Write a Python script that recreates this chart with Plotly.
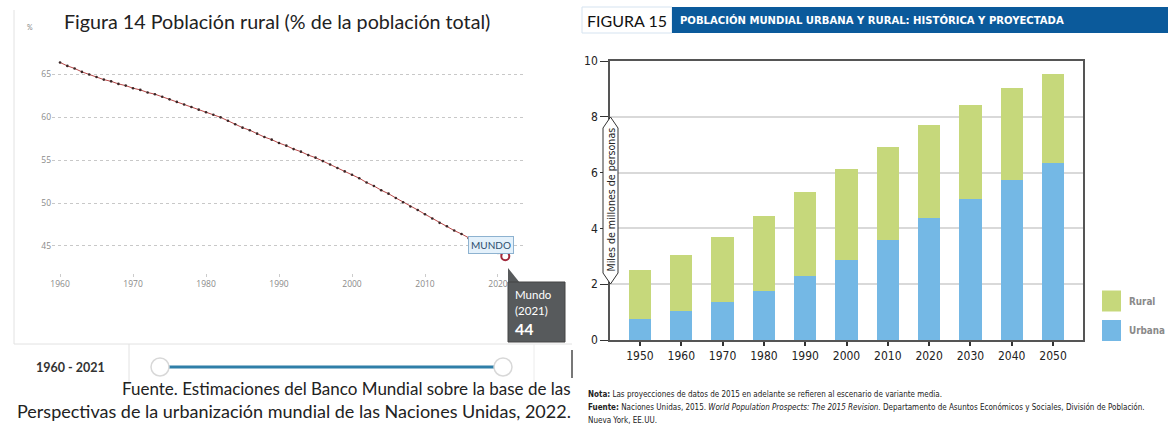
import plotly.graph_objects as go

# ---------------- data ----------------
# Figure 14: rural population (% of total), World, 1960-2021
rural_years = list(range(1960, 2022))
rural_pct = [66.4, 66.0, 65.7, 65.3, 65.0, 64.7, 64.4, 64.2, 63.9, 63.7,
             63.4, 63.2, 62.9, 62.7, 62.4, 62.1, 61.8, 61.5, 61.2, 60.9,
             60.6, 60.3, 60.0, 59.6, 59.2, 58.8, 58.5, 58.1, 57.7, 57.4,
             57.0, 56.7, 56.3, 56.0, 55.6, 55.3, 54.9, 54.5, 54.1, 53.7,
             53.3, 52.9, 52.4, 52.0, 51.5, 51.1, 50.6, 50.1, 49.6, 49.2,
             48.7, 48.2, 47.7, 47.3, 46.8, 46.4, 45.9, 45.5, 45.0, 44.6,
             44.2, 43.8]
left_yticks = [45, 50, 55, 60, 65]
left_xticks = [1960, 1970, 1980, 1990, 2000, 2010, 2020]

# Figure 15: world urban and rural population (billions)
decades = [1950, 1960, 1970, 1980, 1990, 2000, 2010, 2020, 2030, 2040, 2050]
urbana = [0.74, 1.04, 1.35, 1.75, 2.30, 2.86, 3.58, 4.36, 5.05, 5.74, 6.33]
rural = [1.77, 2.00, 2.34, 2.69, 3.02, 3.26, 3.35, 3.35, 3.37, 3.29, 3.20]
right_yticks = [0, 2, 4, 6, 8, 10]

W, H = 1168, 425


def px(x):
    return x / W


def py(y):
    return 1 - y / H


CAL = "Lato, 'Open Sans', sans-serif"
NARROW = "'Liberation Sans Narrow', 'DejaVu Sans Condensed', 'Roboto Condensed', Roboto, sans-serif"

fig = go.Figure()

# ---------- left chart ----------
fig.add_trace(go.Scatter(
    x=rural_years, y=rural_pct, mode="lines+markers",
    line=dict(color="#b84a4a", width=1),
    marker=dict(size=2.6, color="#3a2626"),
    xaxis="x", yaxis="y", showlegend=False, hoverinfo="skip"))
fig.add_trace(go.Scatter(
    x=rural_years[-1:], y=rural_pct[-1:], mode="markers",
    marker=dict(size=8, color="white", symbol="circle",
                line=dict(color="#a0283a", width=2)),
    xaxis="x", yaxis="y", showlegend=False, hoverinfo="skip"))

# ---------- right chart ----------
fig.add_trace(go.Bar(x=decades, y=urbana, name="Urbana", width=5.4,
                     marker=dict(color="#74b8e5", line=dict(width=0)),
                     xaxis="x2", yaxis="y2", showlegend=False))
fig.add_trace(go.Bar(x=decades, y=rural, name="Rural", width=5.4,
                     marker=dict(color="#c6d87b", line=dict(width=0)),
                     xaxis="x2", yaxis="y2", showlegend=False))

shapes = []
ann = []


def text(t, x, y, size, color="#222", family=CAL, xanchor="left", **kw):
    ann.append(dict(text=t, x=px(x), y=py(y), xref="paper", yref="paper",
                    showarrow=False, xanchor=xanchor, yanchor="middle",
                    font=dict(family=family, size=size, color=color), **kw))


def line(x0, y0, x1, y1, color, width=1):
    shapes.append(dict(type="line", xref="paper", yref="paper",
                       x0=px(x0), x1=px(x1), y0=py(y0), y1=py(y1),
                       line=dict(color=color, width=width)))


# --- left chart decorations ---
line(14, 10, 14, 344, "#e2e2e2")
line(14, 344, 572, 344, "#e2e2e2")
line(129, 344, 129, 382, "#e2e2e2")
line(534, 344, 534, 382, "#ececec")
line(572, 350, 572, 378, "#777777", 2)
# slider
line(165, 367, 498, 367, "#2f7fa8", 3)
for cx in (160, 503):
    shapes.append(dict(type="circle", xref="paper", yref="paper",
                       x0=px(cx - 9), x1=px(cx + 9), y0=py(376), y1=py(358),
                       fillcolor="white", line=dict(color="#d8d8d8", width=1.5)))
text("<b>1960 - 2021</b>", 70, 367, 12.5, "#333", xanchor="center")
# tooltip
shapes.append(dict(type="path", xref="paper", yref="paper",
                   path=f"M {px(508)} {py(268)} L {px(508)} {py(283)} L {px(520)} {py(283)} Z",
                   fillcolor="#575a5c", line=dict(width=0), layer="above"))
shapes.append(dict(type="rect", xref="paper", yref="paper",
                   x0=px(508), x1=px(565), y0=py(342), y1=py(282),
                   fillcolor="#575a5c", line=dict(color="#444", width=1), layer="above"))
text("Mundo", 513, 294, 11.5, "white")
text("(2021)", 513, 310, 11.5, "white")
text("<b>44</b>", 513, 328, 16, "white")
# MUNDO label
ann.append(dict(text="MUNDO", x=2019.0, y=45.1, xref="x", yref="y",
                showarrow=False, xanchor="center", yanchor="middle",
                bgcolor="#e4f1fb", bordercolor="#8db2d0",
                borderwidth=1, borderpad=2,
                font=dict(family=CAL, size=10, color="#2d4f6e")))
# title
text("%", 30, 27, 7, "#888", xanchor="center")
text("Figura 14 Población rural (% de la población total)", 62, 21, 19.7, "#222")
# source
text("Fuente. Estimaciones del Banco Mundial sobre la base de las", 573, 388, 17, "#222", xanchor="right")
text("Perspectivas de la urbanización mundial de las Naciones Unidas, 2022.", 573, 411, 18, "#222", xanchor="right")

# --- right chart decorations ---
shapes.append(dict(type="rect", xref="paper", yref="paper",
                   x0=px(582), x1=px(672), y0=py(33), y1=py(7),
                   fillcolor="white", line=dict(color="#d5e3f0", width=1)))
shapes.append(dict(type="rect", xref="paper", yref="paper",
                   x0=px(672), x1=px(1168), y0=py(33), y1=py(7),
                   fillcolor="#0b5a9b", line=dict(width=0)))
text("FIGURA 15", 585, 20, 16, "#111")
text("<b>POBLACIÓN MUNDIAL URBANA Y RURAL: HISTÓRICA Y PROYECTADA</b>", 678, 20, 11.2, "white", family=NARROW)
# axis-title badge
shapes.append(dict(type="path", xref="paper", yref="paper", layer="above",
                   path=(f"M {px(610.5)} {py(117)} L {px(618)} {py(128)} L {px(618)} {py(273)} "
                         f"L {px(610.5)} {py(284)} L {px(603)} {py(273)} L {px(603)} {py(128)} Z"),
                   fillcolor="white", line=dict(color="#333", width=1)))
text("Miles de millones de personas", 610.5, 200, 10.6, "#222", family=NARROW,
     xanchor="center", textangle=-90)
# legend
for label, col, yc in (("Rural", "#c6d87b", 301), ("Urbana", "#74b8e5", 330.5)):
    shapes.append(dict(type="rect", xref="paper", yref="paper",
                       x0=px(1102), x1=px(1121), y0=py(yc + 10.5), y1=py(yc - 10.5),
                       fillcolor=col, line=dict(width=0)))
    text(f"<b>{label}</b>", 1127, yc, 9.8, "#8a8a8a", family=NARROW)
# notes
text("<b>Nota:</b> Las proyecciones de datos de 2015 en adelante se refieren al escenario de variante media.",
     586, 394, 8, family=NARROW)
text("<b>Fuente:</b> Naciones Unidas, 2015. <i>World Population Prospects: The 2015 Revision.</i> "
     "Departamento de Asuntos Económicos y Sociales, División de Población.",
     586, 407, 8, family=NARROW)
text("Nueva York, EE.UU.", 586, 420, 8, family=NARROW)

fig.update_layout(
    width=W, height=H, margin=dict(l=0, r=0, t=0, b=0, pad=0, autoexpand=False),
    paper_bgcolor="white", plot_bgcolor="rgba(0,0,0,0)",
    barmode="stack", bargap=0,
    shapes=shapes, annotations=ann,
    xaxis=dict(domain=[px(52), px(525)], range=[1958.9, 2023.7], automargin=False,
               tickvals=left_xticks, ticks="outside", ticklen=3, tickcolor="#cccccc",
               showgrid=False, zeroline=False, showline=False,
               tickfont=dict(family="Open Sans", size=8.5, color="#8a8a8a")),
    yaxis=dict(domain=[py(273), py(55)], range=[41.85, 67.27], automargin=False,
               tickvals=left_yticks, showgrid=True, gridcolor="#c8c8c8",
               griddash="dot", gridwidth=1, zeroline=False, showline=False,
               ticks="", tickfont=dict(family="Open Sans", size=8.5, color="#8a8a8a")),
    xaxis2=dict(domain=[px(610), px(1083)], range=[1942.74, 2057.26], automargin=False,
                tickvals=decades, ticks="outside", ticklen=4, tickcolor="#333",
                tickwidth=1.5, showgrid=False, zeroline=False,
                showline=True, linecolor="#555", linewidth=1.5, mirror=True,
                anchor="y2",
                tickfont=dict(family=NARROW, size=12, color="#222")),
    yaxis2=dict(domain=[py(340), py(61)], range=[0, 10], automargin=False,
                tickvals=right_yticks, ticks="outside", ticklen=8, tickcolor="#333",
                tickwidth=1, showgrid=True, gridcolor="#d9d9d9", gridwidth=2,
                zeroline=False, showline=True, linecolor="#555", linewidth=1.5,
                mirror=True, anchor="x2",
                tickfont=dict(family=NARROW, size=12, color="#222")),
)

fig.write_html(
    "out.html",
    config={"displayModeBar": False},
    post_script="document.body.style.margin='0';document.body.style.padding='0';"
                "document.documentElement.style.overflow='hidden';",
)
